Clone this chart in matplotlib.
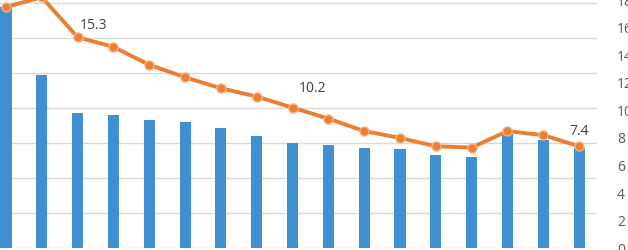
import numpy as np
import matplotlib.pyplot as plt

plt.rcParams.update({'font.family': ['Open Sans', 'DejaVu Sans']})

# values
categories = list(range(1, 18))
bar_vals = [34.5, 24.8, 19.3, 19.0, 18.4, 18.1, 17.2, 16.0, 15.0, 14.8,
            14.4, 14.2, 13.4, 13.1, 16.3, 15.5, 14.3]
line_vals = [17.5, 18.2, 15.3, 14.6, 13.3, 12.4, 11.6, 11.0, 10.2, 9.4,
             8.5, 8.0, 7.4, 7.3, 8.5, 8.2, 7.4]
labelled = {2: (11.5, 8.6), 8: (14.4, 13.7), 16: (0, 10.8)}
right_ticks = [0, 2, 4, 6, 8, 10, 12, 14, 16, 18]

BAR = '#3f8fd2'
LINE = '#ed7d31'
GRID = '#d9d9d9'
TXT = '#404040'

W, H = 628, 250
fig = plt.figure(figsize=(W / 100, H / 100), dpi=100)
left_px, right_px = -11.9, 597
bot_px, top_px = 1.7, 250
ax = fig.add_axes([left_px / W, bot_px / H, (right_px - left_px) / W,
                   (top_px - bot_px) / H])

x = np.arange(len(categories))
ax.bar(x, bar_vals, width=0.31, color=BAR, zorder=2)
ax.set_xlim(-0.5, len(categories) - 0.5)
ax.set_ylim(0, 35.5)
ax.set_yticks(np.arange(0, 36, 5))
ax.yaxis.grid(True, color=GRID, lw=1.0, zorder=0)
ax.set_axisbelow(True)
ax.tick_params(left=False, bottom=False, labelleft=False, labelbottom=False)
for s in ax.spines.values():
    s.set_visible(False)

ax2 = ax.twinx()
ax2.plot(x, line_vals, color=LINE, lw=2.8, marker='o', ms=6.5,
         mfc=LINE, mec='#f4b183', mew=1.0, zorder=3, clip_on=False)
ax2.set_ylim(0, 18)
ax2.set_yticks(right_ticks)
ax2.tick_params(right=False, labelsize=10, labelcolor='#595959', pad=11)
for s in ax2.spines.values():
    s.set_visible(False)

for i, (dx, dy) in labelled.items():
    ax2.annotate(f'{line_vals[i]:.1f}', (x[i], line_vals[i]), xytext=(dx, dy),
                 textcoords='offset points', ha='center', va='center',
                 fontsize=10, color=TXT)

fig.savefig('out.png', dpi=100)
